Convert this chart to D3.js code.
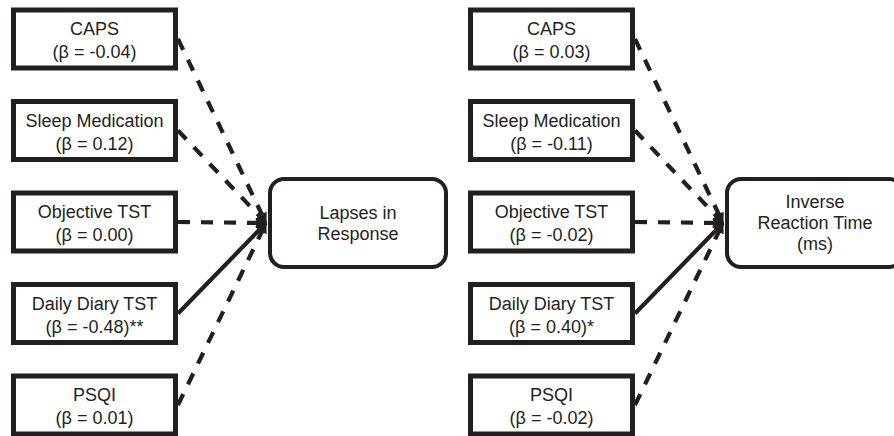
<!DOCTYPE html>
<html>
<head>
<meta charset="utf-8">
<script src="https://cdnjs.cloudflare.com/ajax/libs/d3/7.8.5/d3.min.js"></script>
<style>
    body { margin: 0; background: #fff; }
    svg { display: block; }
    text { font-family: "Liberation Sans", Arial, sans-serif; fill: #231f20; }
</style>
</head>
<body>
<svg id="chart" width="894" height="436"></svg>
<script>
// predictors (left boxes), same order in both panels
var predictors = ['CAPS', 'Sleep Medication', 'Objective TST', 'Daily Diary TST', 'PSQI'];
var lineTypes = ['dashed', 'dashed', 'dashed', 'solid', 'dashed']; // solid = significant path

// outcome labels, one per panel
var outcomes = [['Lapses in', 'Response'], ['Inverse', 'Reaction Time', '(ms)']];

// beta labels, one list per panel
var betasLapses = ['(β = -0.04)', '(β = 0.12)', '(β = 0.00)', '(β = -0.48)**', '(β = 0.01)'];
var betasIRT = ['(β = 0.03)', '(β = -0.11)', '(β = -0.02)', '(β = 0.40)*', '(β = -0.02)'];

var panels = [
    {id: 'lapses', outcome: outcomes[0], betas: betasLapses},
    {id: 'irt', outcome: outcomes[1], betas: betasIRT}
];

var svg = d3.select('#chart');
var ink = '#231f20';

// marker for the arrow tips
svg.append('defs').append('marker')
    .attr('id', 'arrow')
    .attr('viewBox', '0 0 10 10')
    .attr('refX', 9)
    .attr('refY', 5)
    .attr('markerUnits', 'userSpaceOnUse')
    .attr('markerWidth', 11)
    .attr('markerHeight', 12)
    .attr('orient', 'auto')
    .append('path')
    .attr('d', 'M0,0 L10,5 L0,10 z')
    .attr('fill', ink);

var panelX = d3.scalePoint().domain(panels.map(function(d) { return d.id; })).range([0, 457]);
var y = d3.scalePoint().domain(predictors).range([39, 405]);

var boxW = 162, boxH = 58, boxLeft = 13.5;
var hub = {x: 266, y: 223};  // where arrows meet
var outBox = {x: 270, y: 179, w: 176, h: 88};

panels.forEach(function(p) {
    var g = svg.append('g')
        .attr('transform', 'translate(' + panelX(p.id) + ',0)');

    // paths
    g.selectAll('.path')
        .data(predictors)
        .enter().append('line')
        .attr('class', 'path')
        .attr('x1', boxLeft + boxW + 2.5)
        .attr('y1', function(d) { return y(d); })
        .attr('x2', hub.x)
        .attr('y2', hub.y)
        .attr('stroke', ink)
        .attr('stroke-width', 4.2)
        .attr('stroke-dasharray', function(d, i) { return lineTypes[i] === 'dashed' ? '12,11' : null; })
        .attr('marker-end', 'url(#arrow)');

    // predictor boxes
    var box = g.selectAll('.pred')
        .data(predictors)
        .enter().append('g')
        .attr('class', 'pred');

    box.append('rect')
        .attr('x', boxLeft)
        .attr('y', function(d) { return y(d) - boxH / 2; })
        .attr('width', boxW)
        .attr('height', boxH)
        .attr('fill', '#fff')
        .attr('stroke', ink)
        .attr('stroke-width', 5);

    box.append('text')
        .attr('x', boxLeft + boxW / 2)
        .attr('y', function(d) { return y(d) - 4; })
        .attr('text-anchor', 'middle')
        .attr('font-size', 18)
        .text(function(d) { return d; });

    box.append('text')
        .attr('x', boxLeft + boxW / 2)
        .attr('y', function(d) { return y(d) + 19; })
        .attr('text-anchor', 'middle')
        .attr('font-size', 18)
        .text(function(d, i) { return p.betas[i]; });

    // outcome box
    g.append('rect')
        .attr('x', outBox.x)
        .attr('y', outBox.y)
        .attr('width', outBox.w)
        .attr('height', outBox.h)
        .attr('rx', 14)
        .attr('fill', '#fff')
        .attr('stroke', ink)
        .attr('stroke-width', 4);

    var n = p.outcome.length;
    g.selectAll('.out')
        .data(p.outcome)
        .enter().append('text')
        .attr('class', 'out')
        .attr('x', outBox.x + outBox.w / 2)
        .attr('y', function(d, i) { return hub.y + 6 + (i - (n - 1) / 2) * 21; })
        .attr('text-anchor', 'middle')
        .attr('font-size', 18)
        .text(function(d) { return d; });
});
</script>
</body>
</html>
